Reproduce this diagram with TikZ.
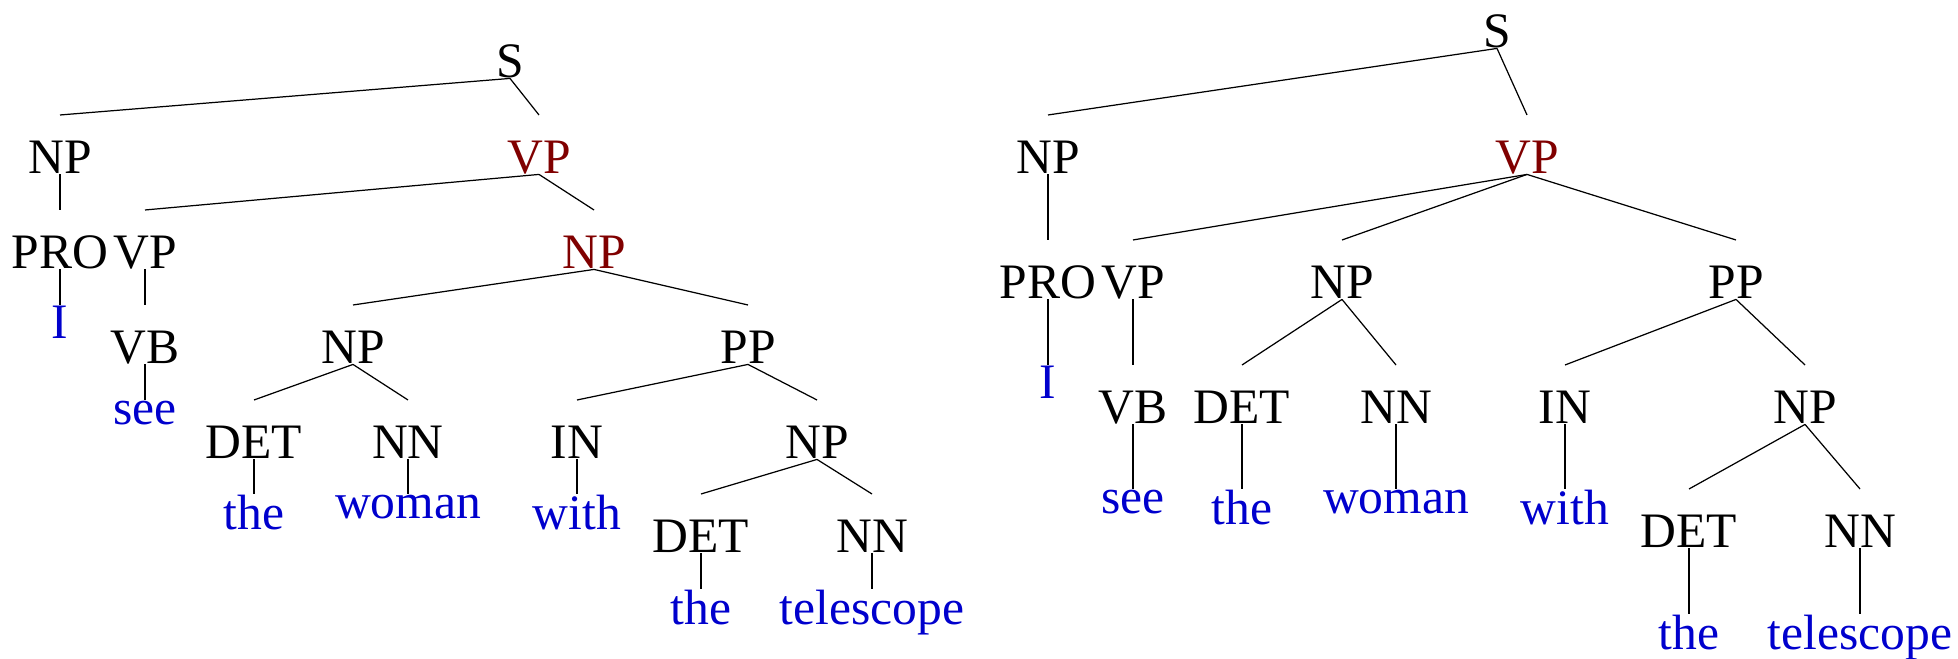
\documentclass[tikz,border=0pt]{standalone}
\usepackage{fontspec}
\setmainfont{Liberation Serif}
\usepackage{tikz}
\definecolor{phrasered}{RGB}{128,0,0}
\definecolor{wordblue}{RGB}{0,0,205}
\begin{document}
\begin{tikzpicture}[x=0.01cm,y=-0.01cm,
  every node/.style={font=\fontsize{14.1}{16}\selectfont},
  catnode/.style={anchor=north, inner sep=0pt, text height=0.58cm, text depth=0pt},
  headnode/.style={catnode, text=phrasered},
  wordnode/.style={anchor=north, inner sep=0pt, text=wordblue},
  branch/.style={line width=0.35pt}]
\useasboundingbox (0,0) rectangle (1958,659);

% ---------- first tree: PP attached inside the object NP ----------
\node[catnode]  (LS)    at (510,19)  {S};
\node[catnode]  (LNP1)  at (60,115)  {NP};
\node[headnode] (LVP1)  at (539,115) {VP};
\node[catnode]  (LPRO)  at (60,210)  {PRO};
\node[catnode]  (LVP2)  at (145,210) {VP};
\node[headnode] (LNP2)  at (594,210) {NP};
\node[wordnode] (LI)    at (60,305)  {I};
\node[catnode]  (LVB)   at (145,305) {VB};
\node[catnode]  (LNP3)  at (353,305) {NP};
\node[catnode]  (LPP)   at (748,305) {PP};
\node[wordnode] (Lsee)  at (145,400) {see};
\node[catnode]  (LDET1) at (254,400) {DET};
\node[catnode]  (LNN1)  at (408,400) {NN};
\node[catnode]  (LIN)   at (577,400) {IN};
\node[catnode]  (LNP4)  at (817,400) {NP};
\node[wordnode] (Lthe1) at (254,494) {the};
\node[wordnode] (Lwoman) at (408,494) {woman};
\node[wordnode] (Lwith) at (577,494) {with};
\node[catnode]  (LDET2) at (701,494) {DET};
\node[catnode]  (LNN2)  at (872,494) {NN};
\node[wordnode] (Lthe2) at (701,589) {the};
\node[wordnode] (Ltele) at (872,589) {telescope};

\foreach \p/\c in {LS/LNP1, LS/LVP1, LNP1/LPRO, LVP1/LVP2, LVP1/LNP2,
  LPRO/LI, LVP2/LVB, LNP2/LNP3, LNP2/LPP, LVB/Lsee, LNP3/LDET1, LNP3/LNN1,
  LPP/LIN, LPP/LNP4, LDET1/Lthe1, LNN1/Lwoman, LIN/Lwith, LNP4/LDET2,
  LNP4/LNN2, LDET2/Lthe2, LNN2/Ltele}
  \draw[branch] (\p.south) -- (\c.north);

% ---------- second tree: PP attached to the VP ----------
\node[catnode]  (RS)    at (1497,-11) {S};
\node[catnode]  (RNP1)  at (1048,115) {NP};
\node[headnode] (RVP1)  at (1527,115) {VP};
\node[catnode]  (RPRO)  at (1048,240) {PRO};
\node[catnode]  (RVP2)  at (1133,240) {VP};
\node[catnode]  (RNP2)  at (1342,240) {NP};
\node[catnode]  (RPP)   at (1736,240) {PP};
\node[wordnode] (RI)    at (1048,365) {I};
\node[catnode]  (RVB)   at (1133,365) {VB};
\node[catnode]  (RDET1) at (1242,365) {DET};
\node[catnode]  (RNN1)  at (1396,365) {NN};
\node[catnode]  (RIN)   at (1565,365) {IN};
\node[catnode]  (RNP3)  at (1805,365) {NP};
\node[wordnode] (Rsee)  at (1133,489) {see};
\node[wordnode] (Rthe1) at (1242,489) {the};
\node[wordnode] (Rwoman) at (1396,489) {woman};
\node[wordnode] (Rwith) at (1565,489) {with};
\node[catnode]  (RDET2) at (1689,489) {DET};
\node[catnode]  (RNN2)  at (1860,489) {NN};
\node[wordnode] (Rthe2) at (1689,614) {the};
\node[wordnode] (Rtele) at (1860,614) {telescope};

\foreach \p/\c in {RS/RNP1, RS/RVP1, RNP1/RPRO, RVP1/RVP2, RVP1/RNP2,
  RVP1/RPP, RPRO/RI, RVP2/RVB, RNP2/RDET1, RNP2/RNN1, RPP/RIN, RPP/RNP3,
  RVB/Rsee, RDET1/Rthe1, RNN1/Rwoman, RIN/Rwith, RNP3/RDET2, RNP3/RNN2,
  RDET2/Rthe2, RNN2/Rtele}
  \draw[branch] (\p.south) -- (\c.north);
\end{tikzpicture}
\end{document}
